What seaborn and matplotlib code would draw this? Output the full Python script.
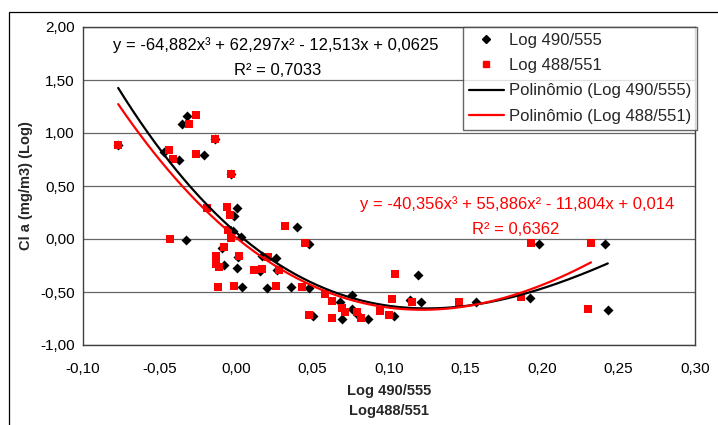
import numpy as np
import pandas as pd
import matplotlib
matplotlib.use("Agg")
import matplotlib.pyplot as plt
import seaborn as sns
from matplotlib.patches import Rectangle
from matplotlib.lines import Line2D

# ---- data ----
x_490 = [-0.077, -0.032, -0.035, -0.014, -0.047, -0.037, -0.021, -0.003, 0.0005, -0.0013,
         0.040, -0.002, -0.033, 0.003, -0.009, 0.001, -0.008, 0.0005, 0.016, 0.017,
         0.026, 0.027, 0.048, 0.004, 0.020, 0.036, 0.048, 0.068, 0.076, 0.0755,
         0.080, 0.086, 0.069, 0.050, 0.103, 0.114, 0.121, 0.119, 0.157, 0.192,
         0.198, 0.241, 0.243]
y_490 = [0.887, 1.163, 1.085, 0.941, 0.824, 0.745, 0.795, 0.616, 0.295, 0.217,
         0.116, 0.075, -0.009, 0.022, -0.082, -0.167, -0.243, -0.271, -0.304, -0.160,
         -0.179, -0.292, -0.044, -0.450, -0.459, -0.450, -0.465, -0.592, -0.528, -0.663,
         -0.717, -0.755, -0.755, -0.724, -0.724, -0.575, -0.594, -0.335, -0.594, -0.554,
         -0.045, -0.045, -0.667]

x_488 = [-0.077, -0.026, -0.031, -0.014, -0.044, -0.041, -0.026, -0.003, -0.019, -0.006,
         -0.004, 0.032, -0.005, -0.043, -0.003, -0.008, -0.013, 0.002, -0.013, -0.011,
         0.012, 0.017, 0.021, 0.028, 0.045, -0.012, -0.001, 0.026, 0.043, 0.058,
         0.063, 0.069, 0.071, 0.079, 0.082, 0.063, 0.048, 0.094, 0.100, 0.102,
         0.115, 0.104, 0.146, 0.186, 0.193, 0.232, 0.230]
y_488 = [0.887, 1.167, 1.085, 0.941, 0.840, 0.752, 0.799, 0.616, 0.290, 0.302,
         0.222, 0.121, 0.085, -0.003, 0.014, -0.073, -0.163, -0.163, -0.238, -0.267,
         -0.297, -0.285, -0.167, -0.288, -0.035, -0.456, -0.443, -0.443, -0.456, -0.521,
         -0.585, -0.654, -0.692, -0.689, -0.748, -0.748, -0.717, -0.675, -0.717, -0.569,
         -0.592, -0.330, -0.590, -0.550, -0.041, -0.041, -0.660]

# trendline coefficients (shown on chart)
coef_490 = [-64.882, 62.297, -12.513, 0.0625]
coef_488 = [-40.356, 55.886, -11.804, 0.014]
eq_490 = "y = -64,882x³ + 62,297x² - 12,513x + 0,0625"
eq_488 = "y = -40,356x³ + 55,886x² - 11,804x + 0,014"
r2_490 = "0,7033"
r2_488 = "0,6362"

x_ticks = [-0.10, -0.05, 0.00, 0.05, 0.10, 0.15, 0.20, 0.25, 0.30]
x_tick_labels = ["-0,10", "-0,05", "0,00", "0,05", "0,10", "0,15", "0,20", "0,25", "0,30"]
y_ticks = [-1.0, -0.5, 0.0, 0.5, 1.0, 1.5, 2.0]
y_tick_labels = ["-1,00", "-0,50", "0,00", "0,50", "1,00", "1,50", "2,00"]
legend_labels = ["Log 490/555", "Log 488/551", "Polinômio (Log 490/555)", "Polinômio (Log 488/551)"]

# ---- figure ----
sns.set_style("white")
plt.rcParams['font.family'] = ['Liberation Sans', 'DejaVu Sans']

W, H = 718, 425
fig = plt.figure(figsize=(W / 100, H / 100), dpi=100)
ax = fig.add_axes([83 / W, 1 - 345 / H, (695 - 83) / W, (345 - 27) / H])

# outer chart border (top/left visible)
fig.patches.append(Rectangle((9 / W, -0.05), 1.2, 1 - 12 / H + 0.05, transform=fig.transFigure,
                             fill=False, edgecolor='#000000', linewidth=0.9, zorder=0))

df490 = pd.DataFrame({'x': x_490, 'y': y_490})
df488 = pd.DataFrame({'x': x_488, 'y': y_488})

sns.scatterplot(data=df490, x='x', y='y', ax=ax, marker='D', s=26, color='black',
                edgecolor='black', linewidth=0, zorder=3)
sns.scatterplot(data=df488, x='x', y='y', ax=ax, marker='s', s=30, color='#ff0000',
                edgecolor='#ff0000', linewidth=0, zorder=4)

xs490 = np.linspace(min(x_490), max(x_490), 200)
xs488 = np.linspace(min(x_488), max(x_488), 200)
sns.lineplot(x=xs490, y=np.polyval(coef_490, xs490), ax=ax, color='black', linewidth=1.6, zorder=5)
sns.lineplot(x=xs488, y=np.polyval(coef_488, xs488), ax=ax, color='#ff0000', linewidth=1.6, zorder=6)

ax.set_xlim(-0.10, 0.30)
ax.set_ylim(-1.0, 2.0)
ax.set_xticks(x_ticks)
ax.set_xticklabels(x_tick_labels)
ax.set_yticks(y_ticks)
ax.set_yticklabels(y_tick_labels)
ax.tick_params(axis='both', length=0, labelsize=11, colors='black')
ax.tick_params(axis='y', pad=6)
ax.tick_params(axis='x', pad=12)

ax.yaxis.grid(True, color='#000000', linewidth=0.9, alpha=0.6)
ax.xaxis.grid(False)
for s in ax.spines.values():
    s.set_color('#404040')
    s.set_linewidth(1.0)

ax.set_xlabel("Log 490/555\nLog488/551", fontsize=10.5, fontweight='bold', labelpad=6,
              linespacing=1.5)
ax.set_ylabel("Cl a (mg/m3) (Log)", fontsize=10.5, fontweight='bold', labelpad=5)

# equations
ax.text(0.026, 1.83, eq_490, ha='center', va='center', fontsize=12, color='black')
ax.text(0.027, 1.594, "R² = " + r2_490, ha='center', va='center', fontsize=12, color='black')
ax.text(0.1837, 0.33, eq_488, ha='center', va='center', fontsize=12, color='#ff0000')
ax.text(0.183, 0.094, "R² = " + r2_488, ha='center', va='center', fontsize=12, color='#ff0000')

handles = [
    Line2D([], [], marker='D', color='black', linestyle='none', markersize=4),
    Line2D([], [], marker='s', color='#ff0000', linestyle='none', markersize=5),
    Line2D([], [], color='black', linewidth=1.6),
    Line2D([], [], color='#ff0000', linewidth=1.6),
]
leg = fig.legend(handles, legend_labels, loc='upper left', bbox_to_anchor=(463 / W, 1 - 27 / H),
                 frameon=True, fancybox=False, edgecolor='#404040', fontsize=12,
                 handlelength=2.1, handletextpad=0.3, borderpad=0.35, labelspacing=0.62,
                 borderaxespad=0)
leg.get_frame().set_linewidth(1.0)

fig.savefig("out.png", dpi=100)
